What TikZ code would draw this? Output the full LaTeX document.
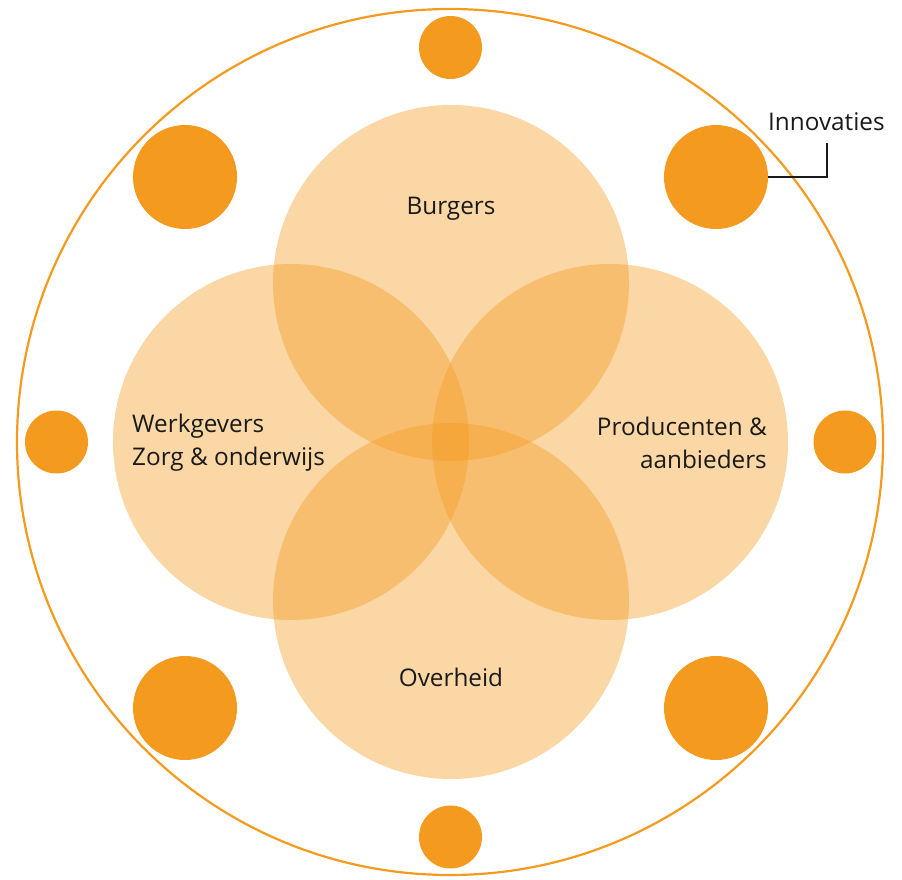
\documentclass[tikz,border=0pt]{standalone}
\usepackage{fontspec}
\setmainfont{Open Sans}
\definecolor{accent}{HTML}{F49A1F}
\definecolor{ink}{HTML}{1A1A1A}
\begin{document}
\begin{tikzpicture}[x=1pt,y=-1pt,
  dot/.style={circle,fill=accent,draw=none,inner sep=0pt,minimum size=#1},
  group/.style={circle,fill=accent,fill opacity=0.4,draw=none,inner sep=0pt,minimum size=356pt},
  label/.style={font=\fontsize{24.3}{33}\selectfont,text=ink,inner sep=0pt}]
\useasboundingbox (0,0) rectangle (902,880);
% outer ring
\node[circle,draw=accent,line width=2.2pt,inner sep=0pt,minimum size=866pt] (ring) at (450,442) {};
% four overlapping groups
\node[group] (top) at (451,283) {};
\node[group] (left) at (291,442) {};
\node[group] (right) at (610,442) {};
\node[group] (bottom) at (451,601) {};
% small dots on the axes
\node[dot=63pt] (dn) at (450.5,47.5) {};
\node[dot=63pt] (ds) at (450.5,837) {};
\node[dot=63pt] (dw) at (56.5,442) {};
\node[dot=63pt] (de) at (845,442) {};
% large dots on the diagonals
\node[dot=104pt] (dnw) at (185,177) {};
\node[dot=104pt] (dne) at (716,177) {};
\node[dot=104pt] (dsw) at (185,708) {};
\node[dot=104pt] (dse) at (716,708) {};
% labels
\node[label] (lb) at (451,209) {Burgers};
\node[label,align=left,anchor=west] (lw) at (132,442.5) {Werkgevers\\Zorg \& onderwijs};
\node[label,align=right,anchor=east] (lr) at (767,442.5) {Producenten \&\\aanbieders};
\node[label] (lo) at (451,677) {Overheid};
\node[label,anchor=south west] (li) at (768,131) {Innovaties};
% leader to the innovation dot
\coordinate (bend) at (827,177);
\draw[ink,line width=1.3pt] (dne.east) -- (bend) -- (bend |- 0,143) coordinate (lend);
\end{tikzpicture}
\end{document}
